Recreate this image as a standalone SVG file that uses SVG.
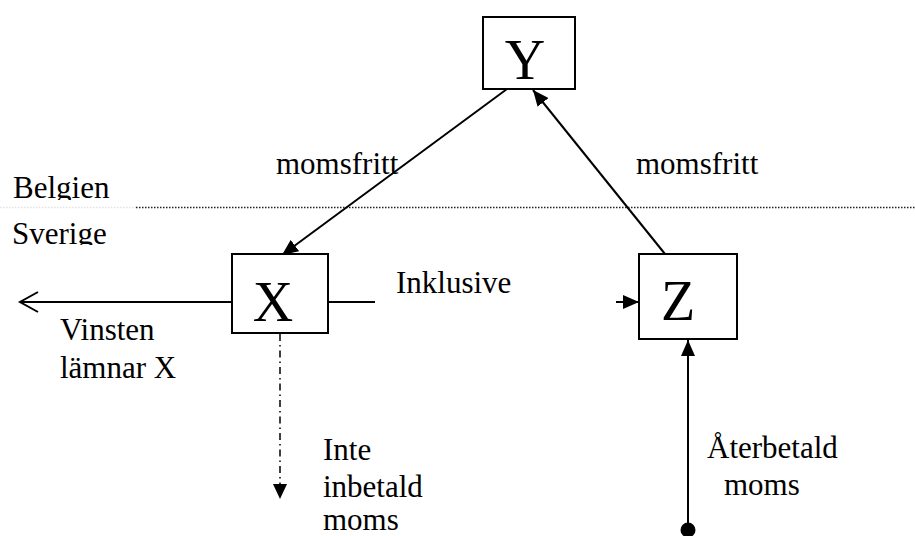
<svg xmlns="http://www.w3.org/2000/svg" width="915" height="536" viewBox="0 0 915 536">
<style>
.box{fill:#fff;stroke:#000;stroke-width:2}
.big{font-family:"Liberation Serif","Times New Roman",serif;font-size:56px;fill:#000}
.lbl{font-family:"Liberation Serif","Times New Roman",serif;font-size:31px;fill:#000}
.ln{stroke:#000;stroke-width:2;fill:none}
</style>
<defs>
<marker id="ah" markerUnits="userSpaceOnUse" markerWidth="17" markerHeight="14" refX="16" refY="7" orient="auto">
<path d="M0,0 L16,7 L0,14 z" fill="#000"/>
</marker>
<clipPath id="cBel"><rect x="0" y="170" width="200" height="30"/></clipPath>
<clipPath id="cSve"><rect x="0" y="215" width="200" height="30"/></clipPath>
</defs>
<rect width="915" height="536" fill="#fff"/>
<g id="border">
<line x1="0" y1="207.5" x2="136" y2="207.5" stroke="#e2e2e2" stroke-width="1.5" stroke-dasharray="1.5 1.5"/>
<line x1="136" y1="207.5" x2="915" y2="207.5" stroke="#222" stroke-width="1.5" stroke-dasharray="1.5 1.5"/>
<text class="lbl" x="13" y="198" clip-path="url(#cBel)">Belgien</text>
<text class="lbl" x="12" y="244" clip-path="url(#cSve)">Sverige</text>
</g>
<g id="connectors">
<line class="ln" x1="507" y1="89" x2="282" y2="255" marker-end="url(#ah)"/>
<line class="ln" x1="665" y1="254" x2="533" y2="90" marker-end="url(#ah)"/>
<line class="ln" x1="232" y1="302" x2="21" y2="302"/>
<path class="ln" d="M38,292 L20,302 L38,312"/>
<line class="ln" x1="328" y1="302" x2="375" y2="302"/>
<line class="ln" x1="616" y1="302" x2="639" y2="302" marker-end="url(#ah)"/>
<line x1="280" y1="334" x2="280" y2="484" stroke="#000" stroke-width="1.5" stroke-dasharray="7 4 1.5 4"/>
<path d="M273,484 L287,484 L280,499 z" fill="#000"/>
<line class="ln" x1="688" y1="530" x2="688" y2="340" marker-end="url(#ah)"/>
<circle cx="688" cy="530" r="7.5" fill="#000"/>
</g>
<g id="Y">
<rect class="box" x="483" y="17" width="92" height="72"/>
<text class="big" x="525" y="79" text-anchor="middle">Y</text>
</g>
<g id="X">
<rect class="box" x="232" y="254" width="96" height="79"/>
<text class="big" x="273" y="321" text-anchor="middle">X</text>
</g>
<g id="Z">
<rect class="box" x="639" y="254" width="98" height="85"/>
<text class="big" x="678" y="320" text-anchor="middle">Z</text>
</g>
<g id="labels">
<text class="lbl" x="276" y="174">momsfritt</text>
<text class="lbl" x="636" y="174">momsfritt</text>
<text class="lbl" x="396" y="293">Inklusive</text>
<text class="lbl" x="60" y="340">Vinsten</text>
<text class="lbl" x="60" y="378">lämnar X</text>
<text class="lbl" x="323" y="460">Inte</text>
<text class="lbl" x="323" y="497">inbetald</text>
<text class="lbl" x="323" y="530">moms</text>
<text class="lbl" x="707" y="458">Återbetald</text>
<text class="lbl" x="724" y="495">moms</text>
</g>
</svg>
